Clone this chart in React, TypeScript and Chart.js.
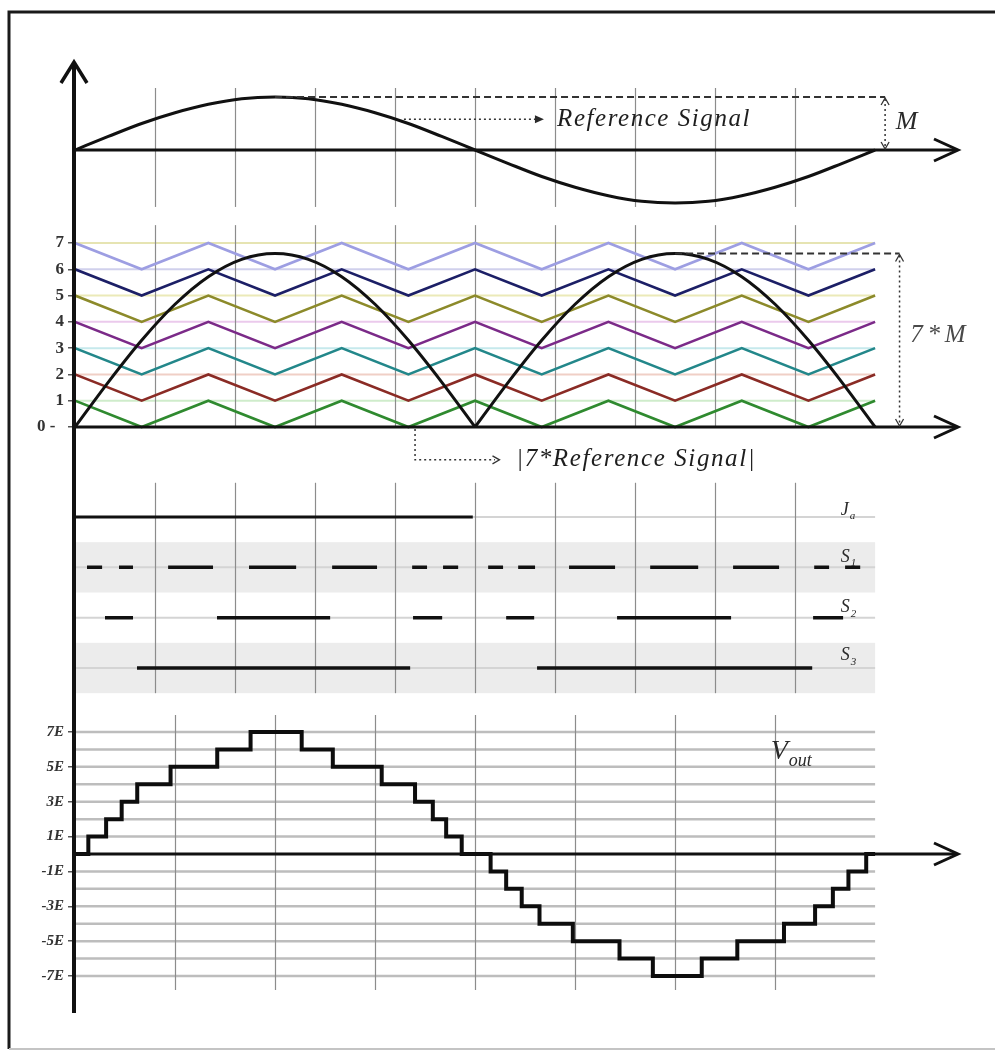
import React, { useEffect, useRef } from 'react';
import { Chart, registerables } from 'chart.js';

Chart.register(...registerables);

// ---------------- data ----------------
const M = 0.94; // modulation index (reference amplitude)

const refAngles = [0, 15, 30, 45, 60, 75, 90, 105, 120, 135, 150, 165, 180, 195, 210, 225, 240, 255, 270, 285, 300, 315, 330, 345, 360];
const refValues = [0, 0.24, 0.47, 0.66, 0.81, 0.91, 0.94, 0.91, 0.81, 0.66, 0.47, 0.24, 0, -0.24, -0.47, -0.66, -0.81, -0.91, -0.94, -0.91, -0.81, -0.66, -0.47, -0.24, 0];

const carrierAngles = [0, 30, 60, 90, 120, 150, 180, 210, 240, 270, 300, 330, 360];
const carrier1 = [1, 0, 1, 0, 1, 0, 1, 0, 1, 0, 1, 0, 1];
const carrier2 = [2, 1, 2, 1, 2, 1, 2, 1, 2, 1, 2, 1, 2];
const carrier3 = [3, 2, 3, 2, 3, 2, 3, 2, 3, 2, 3, 2, 3];
const carrier4 = [4, 3, 4, 3, 4, 3, 4, 3, 4, 3, 4, 3, 4];
const carrier5 = [5, 4, 5, 4, 5, 4, 5, 4, 5, 4, 5, 4, 5];
const carrier6 = [6, 5, 6, 5, 6, 5, 6, 5, 6, 5, 6, 5, 6];
const carrier7 = [7, 6, 7, 6, 7, 6, 7, 6, 7, 6, 7, 6, 7];
const carrierColors = ['#2f8a2f', '#8a2b25', '#23878a', '#7b2a88', '#8c8a2a', '#1c1f66', '#9d9ee2'];
const carrierLevelTints = ['#cfeccb', '#f0cfc6', '#c6e9ec', '#ebcaec', '#ebeab8', '#d0d0ec', '#e6e4b2'];

const archAngles1 = [0, 15, 30, 45, 60, 75, 90, 105, 120, 135, 150, 165, 180];
const archValues1 = [0, 1.71, 3.3, 4.67, 5.72, 6.38, 6.6, 6.38, 5.72, 4.67, 3.3, 1.71, 0];
const archAngles2 = [180, 195, 210, 225, 240, 255, 270, 285, 300, 315, 330, 345, 360];
const archValues2 = [0, 1.71, 3.3, 4.67, 5.72, 6.38, 6.6, 6.38, 5.72, 4.67, 3.3, 1.71, 0];

const voutAngles = [0, 6, 14, 21, 28, 43, 64, 79, 102, 116, 138, 153, 161, 167, 174, 187, 194, 201, 209, 224, 245, 260, 282, 298, 319, 333, 341, 348, 356, 360];
const voutLevels = [0, 1, 2, 3, 4, 5, 6, 7, 6, 5, 4, 3, 2, 1, 0, -1, -2, -3, -4, -5, -6, -7, -6, -5, -4, -3, -2, -1, 0, 0];

const jaSegments = [[0, 179]];
const s1Segments = [[5.4, 12.2], [19.8, 26.1], [41.9, 62.1], [78.3, 99.5], [115.7, 135.9], [151.7, 158.4], [165.6, 172.4], [185.9, 192.6], [199.4, 207], [222.3, 243], [258.8, 280.4], [296.1, 316.8], [332.6, 339.3], [346.5, 353.3]];
const s2Segments = [[13.5, 26.1], [63.9, 114.8], [152.1, 165.2], [194, 206.6], [243.9, 295.2], [332.1, 345.6]];
const s3Segments = [[27.9, 150.8], [207.9, 331.7]];

const carrierTicks = [0, 1, 2, 3, 4, 5, 6, 7];
const carrierTickLabels = ['0 -  ', '1', '2', '3', '4', '5', '6', '7'];
const voutTicks = [7, 5, 3, 1, -1, -3, -5, -7];
const voutTickLabels = ['7E', '5E', '3E', '1E', '-1E', '-3E', '-5E', '-7E'];
const voutGridLevels = [7, 6, 5, 4, 3, 2, 1, -1, -2, -3, -4, -5, -6, -7];

const gridAnglesTop = [36, 72, 108, 144, 180, 216, 252, 288, 324];
const gridAnglesVout = [45, 90, 135, 180, 225, 270, 315];

// ---------------- layout ----------------
const W = 995;
const H = 1051;
const PAD = { left: 0, right: 31, top: 40, bottom: 20 };
const T = PAD.top;
const B = H - PAD.bottom;

type Anchor = { v0: number; p0: number; v1: number; p1: number };
const A_REF: Anchor = { v0: 0, p0: 150, v1: M, p1: 97 };
const A_CAR: Anchor = { v0: 0, p0: 427, v1: 7, p1: 243 };
const A_SW: Anchor = { v0: 4, p0: 517, v1: 1, p1: 668 };
const A_OUT: Anchor = { v0: 0, p0: 854, v1: 7, p1: 732 };

function rangeFor(a: Anchor) {
  const k = (a.p0 - a.p1) / (a.v1 - a.v0);
  return { min: a.v0 - (B - a.p0) / k, max: a.v0 + (a.p0 - T) / k };
}
function valToPix(a: Anchor, v: number) {
  return a.p0 + ((v - a.v0) * (a.p1 - a.p0)) / (a.v1 - a.v0);
}
function pixToVal(a: Anchor, p: number) {
  return a.v0 + ((p - a.p0) * (a.v1 - a.v0)) / (a.p1 - a.p0);
}

const labelTicks = [
  ...carrierTicks.map((v, i) => ({ value: v, label: carrierTickLabels[i] })),
  ...voutTicks.map((L, i) => ({ value: pixToVal(A_CAR, valToPix(A_OUT, L)), label: voutTickLabels[i] })),
];

const SERIF = '"Liberation Serif", "DejaVu Serif", serif';

function pts(xs: number[], ys: number[]) {
  return xs.map((x, i) => ({ x, y: ys[i] }));
}
function segData(segs: number[][], row: number) {
  const out: { x: number; y: number | null }[] = [];
  segs.forEach(([a, b]) => {
    out.push({ x: a, y: row }, { x: b, y: row }, { x: b + 0.01, y: null });
  });
  return out;
}

// ---------------- drawing helpers ----------------
function line(ctx: CanvasRenderingContext2D, x1: number, y1: number, x2: number, y2: number) {
  ctx.beginPath();
  ctx.moveTo(x1, y1);
  ctx.lineTo(x2, y2);
  ctx.stroke();
}
function openHead(ctx: CanvasRenderingContext2D, tx: number, ty: number, dx: number, dy: number, len: number, half: number) {
  const bx = tx - dx * len;
  const by = ty - dy * len;
  const nx = -dy;
  const ny = dx;
  ctx.beginPath();
  ctx.moveTo(bx + nx * half, by + ny * half);
  ctx.lineTo(tx, ty);
  ctx.lineTo(bx - nx * half, by - ny * half);
  ctx.stroke();
}
function fillHead(ctx: CanvasRenderingContext2D, tx: number, ty: number, dx: number, dy: number, len: number, half: number) {
  const bx = tx - dx * len;
  const by = ty - dy * len;
  const nx = -dy;
  const ny = dx;
  ctx.beginPath();
  ctx.moveTo(bx + nx * half, by + ny * half);
  ctx.lineTo(tx, ty);
  ctx.lineTo(bx - nx * half, by - ny * half);
  ctx.closePath();
  ctx.fill();
}
// draws text at a fixed size, adjusting letter spacing so that it spans the given width
function spreadText(ctx: CanvasRenderingContext2D, text: string, x: number, y: number, width: number, size: number, style = 'italic', color = '#1e1e1e') {
  const c: any = ctx;
  ctx.font = `${style} ${size}px ${SERIF}`;
  c.letterSpacing = '0px';
  const w = ctx.measureText(text).width;
  const sp = (width - w) / Math.max(1, text.length);
  c.letterSpacing = `${sp.toFixed(2)}px`;
  ctx.fillStyle = color;
  ctx.textAlign = 'left';
  ctx.textBaseline = 'middle';
  ctx.fillText(text, x, y);
  c.letterSpacing = '0px';
}
function subLabel(ctx: CanvasRenderingContext2D, main: string, sub: string, x: number, y: number, size: number, subSize: number, color = '#2a2a2a') {
  ctx.fillStyle = color;
  ctx.textAlign = 'left';
  ctx.textBaseline = 'middle';
  ctx.font = `italic ${size}px ${SERIF}`;
  ctx.fillText(main, x, y);
  const w = ctx.measureText(main).width;
  ctx.font = `italic ${subSize}px ${SERIF}`;
  ctx.fillText(sub, x + w + 1, y + size * 0.35);
}

const decorPlugin = {
  id: 'decor',
  beforeDraw(chart: any) {
    const ctx: CanvasRenderingContext2D = chart.ctx;
    ctx.save();
    ctx.fillStyle = '#ffffff';
    ctx.fillRect(0, 0, chart.width, chart.height);
    ctx.strokeStyle = '#1a1a1a';
    ctx.lineWidth = 3;
    ctx.beginPath();
    ctx.moveTo(9, 1049);
    ctx.lineTo(9, 12);
    ctx.lineTo(W, 12);
    ctx.stroke();
    ctx.strokeStyle = '#c4c4c4';
    ctx.lineWidth = 2;
    line(ctx, 9, 1049, W, 1049);
    ctx.restore();
  },
  beforeDatasetsDraw(chart: any) {
    const ctx: CanvasRenderingContext2D = chart.ctx;
    const x = chart.scales.x;
    const yR = chart.scales.yR;
    const yC = chart.scales.yC;
    const yS = chart.scales.yS;
    const yV = chart.scales.yV;
    const x0 = x.getPixelForValue(0);
    const x1 = x.getPixelForValue(360);
    ctx.save();
    ctx.fillStyle = '#ececec';
    [[3.5, 2.5], [1.5, 0.5]].forEach(([a, b]) => {
      const ya = yS.getPixelForValue(a);
      const yb = yS.getPixelForValue(b);
      ctx.fillRect(x0, ya, x1 - x0, yb - ya);
    });
    ctx.strokeStyle = '#d4d4d4';
    ctx.lineWidth = 2;
    [3, 2, 1].forEach((r) => line(ctx, x0, yS.getPixelForValue(r), x1, yS.getPixelForValue(r)));
    line(ctx, x.getPixelForValue(179), yS.getPixelForValue(4), x1, yS.getPixelForValue(4));
    ctx.lineWidth = 2;
    for (let l = 1; l <= 7; l++) {
      ctx.strokeStyle = carrierLevelTints[l - 1];
      const py = yC.getPixelForValue(l);
      line(ctx, x0, py, x1, py);
    }
    ctx.strokeStyle = '#bdbdbd';
    ctx.lineWidth = 2.5;
    voutGridLevels.forEach((l) => {
      const py = yV.getPixelForValue(l);
      line(ctx, x0, py, x1, py);
    });
    ctx.strokeStyle = '#8c8c8c';
    ctx.lineWidth = 1.2;
    gridAnglesTop.forEach((a) => {
      const px = Math.round(x.getPixelForValue(a)) + 0.5;
      line(ctx, px, yR.getPixelForValue(1.1), px, yR.getPixelForValue(-1.01));
      line(ctx, px, yC.getPixelForValue(7.68), px, yC.getPixelForValue(0));
      line(ctx, px, yS.getPixelForValue(4.68), px, yS.getPixelForValue(0.5));
    });
    gridAnglesVout.forEach((a) => {
      const px = Math.round(x.getPixelForValue(a)) + 0.5;
      line(ctx, px, yV.getPixelForValue(7.97), px, yV.getPixelForValue(-7.8));
    });
    ctx.restore();
  },
  afterDatasetsDraw(chart: any) {
    const ctx: CanvasRenderingContext2D = chart.ctx;
    const x = chart.scales.x;
    const yR = chart.scales.yR;
    const yC = chart.scales.yC;
    const yS = chart.scales.yS;
    const yV = chart.scales.yV;
    const X = (a: number) => x.getPixelForValue(a);
    const axisX = X(0);
    const tipX = X(397.3);
    ctx.save();
    ctx.strokeStyle = '#111';
    ctx.fillStyle = '#111';
    ctx.lineCap = 'butt';
    ctx.lineWidth = 3;
    [yR.getPixelForValue(0), yC.getPixelForValue(0), yV.getPixelForValue(0)].forEach((py) => {
      line(ctx, axisX, py, tipX - 2, py);
      openHead(ctx, tipX, py, 1, 0, 24, 11);
    });
    ctx.lineWidth = 4;
    line(ctx, axisX - 1, 64, axisX - 1, 1013);
    ctx.lineWidth = 3.5;
    openHead(ctx, axisX - 1, 62, 0, -1, 21, 13);

    // top panel annotations
    ctx.strokeStyle = '#333';
    ctx.fillStyle = '#333';
    ctx.lineWidth = 2;
    ctx.setLineDash([7, 4]);
    const yM = yR.getPixelForValue(M);
    line(ctx, X(90), yM, X(364.5), yM);
    ctx.setLineDash([2, 3]);
    ctx.lineWidth = 1.5;
    const mX = X(364.5);
    line(ctx, mX, yM + 2, mX, yR.getPixelForValue(0) - 2);
    ctx.setLineDash([]);
    ctx.lineWidth = 1.3;
    openHead(ctx, mX, yM + 1, 0, -1, 7, 4);
    openHead(ctx, mX, yR.getPixelForValue(0) - 1, 0, 1, 7, 4);
    spreadText(ctx, 'M', X(369.3), yR.getPixelForValue(0.5), 27, 26, 'italic', '#2a2a2a');

    const yRef = yR.getPixelForValue(0.545);
    ctx.setLineDash([2, 3]);
    ctx.lineWidth = 1.5;
    line(ctx, X(148), yRef, X(208), yRef);
    ctx.setLineDash([]);
    fillHead(ctx, X(211), yRef, 1, 0, 9, 4);
    spreadText(ctx, 'Reference Signal', X(216.9), yRef, 194, 25, 'italic', '#1e1e1e');

    // carrier panel annotations
    const y7M = yC.getPixelForValue(6.6);
    ctx.setLineDash([7, 4]);
    ctx.lineWidth = 2;
    line(ctx, X(270), y7M, X(371), y7M);
    ctx.setLineDash([2, 3]);
    ctx.lineWidth = 1.5;
    const m7X = X(371);
    line(ctx, m7X, y7M + 2, m7X, yC.getPixelForValue(0) - 2);
    ctx.setLineDash([]);
    ctx.lineWidth = 1.3;
    openHead(ctx, m7X, y7M + 1, 0, -1, 7, 4);
    openHead(ctx, m7X, yC.getPixelForValue(0) - 1, 0, 1, 7, 4);
    spreadText(ctx, '7*M', X(375.8), yC.getPixelForValue(3.5), 60, 25, 'italic', '#4a4a4a');

    const yAbs = yC.getPixelForValue(-1.25);
    ctx.setLineDash([2, 3]);
    ctx.lineWidth = 1.5;
    ctx.beginPath();
    ctx.moveTo(X(153), yC.getPixelForValue(0) + 2);
    ctx.lineTo(X(153), yAbs);
    ctx.lineTo(X(189), yAbs);
    ctx.stroke();
    ctx.setLineDash([]);
    ctx.lineWidth = 1.3;
    openHead(ctx, X(191), yAbs, 1, 0, 7, 4);
    spreadText(ctx, '|7*Reference Signal|', X(198.5), yAbs, 240, 25, 'italic', '#1e1e1e');

    // switching labels
    const lx = X(344.5);
    subLabel(ctx, 'J', 'a', lx, yS.getPixelForValue(4.14), 18, 11);
    subLabel(ctx, 'S', '1', lx, yS.getPixelForValue(3.2), 18, 11);
    subLabel(ctx, 'S', '2', lx, yS.getPixelForValue(2.2), 18, 11);
    subLabel(ctx, 'S', '3', lx, yS.getPixelForValue(1.25), 18, 11);

    subLabel(ctx, 'V', 'out', X(313), yV.getPixelForValue(5.9), 28, 18, '#2a2a2a');
    ctx.restore();
  },
};

export default function App() {
  const canvasRef = useRef<HTMLCanvasElement | null>(null);

  useEffect(() => {
    const canvas = canvasRef.current;
    if (!canvas) return;
    const base = { pointRadius: 0, pointHoverRadius: 0, fill: false, tension: 0, xAxisID: 'x' };
    const carriers = [carrier1, carrier2, carrier3, carrier4, carrier5, carrier6, carrier7];
    const datasets: any[] = [
      { ...base, label: '|7*ref| a', data: pts(archAngles1, archValues1), yAxisID: 'yC', borderColor: '#111', borderWidth: 3, cubicInterpolationMode: 'monotone' },
      { ...base, label: '|7*ref| b', data: pts(archAngles2, archValues2), yAxisID: 'yC', borderColor: '#111', borderWidth: 3, cubicInterpolationMode: 'monotone' },
      { ...base, label: 'Vout', data: pts(voutAngles, voutLevels), yAxisID: 'yV', borderColor: '#0d0d0d', borderWidth: 4, stepped: 'before' },
      { ...base, label: 'Ja', data: segData(jaSegments, 4), yAxisID: 'yS', borderColor: '#111', borderWidth: 3 },
      { ...base, label: 'S1', data: segData(s1Segments, 3), yAxisID: 'yS', borderColor: '#111', borderWidth: 3.5 },
      { ...base, label: 'S2', data: segData(s2Segments, 2), yAxisID: 'yS', borderColor: '#111', borderWidth: 3.5 },
      { ...base, label: 'S3', data: segData(s3Segments, 1), yAxisID: 'yS', borderColor: '#111', borderWidth: 3.5 },
      { ...base, label: 'Reference', data: pts(refAngles, refValues), yAxisID: 'yR', borderColor: '#111', borderWidth: 3, cubicInterpolationMode: 'monotone' },
      ...carriers.map((c, i) => ({ ...base, label: `carrier ${i + 1}`, data: pts(carrierAngles, c), yAxisID: 'yC', borderColor: carrierColors[i], borderWidth: 2.6 })),
    ];

    const chart = new Chart(canvas, {
      type: 'line',
      data: { datasets },
      plugins: [decorPlugin as any],
      options: {
        responsive: false,
        animation: false,
        devicePixelRatio: 1,
        events: [],
        layout: { padding: PAD },
        plugins: { legend: { display: false }, tooltip: { enabled: false } },
        scales: {
          x: { type: 'linear', min: 0, max: 400, display: false },
          yR: { type: 'linear', display: false, ...rangeFor(A_REF) },
          yS: { type: 'linear', display: false, ...rangeFor(A_SW) },
          yV: { type: 'linear', display: false, ...rangeFor(A_OUT) },
          yC: {
            type: 'linear',
            position: 'left',
            ...rangeFor(A_CAR),
            border: { display: false },
            grid: { drawOnChartArea: false, drawTicks: true, tickLength: 7, color: '#555', lineWidth: 1.5 },
            afterBuildTicks: (scale: any) => {
              scale.ticks = labelTicks.map((t) => ({ value: t.value }));
            },
            afterFit: (scale: any) => {
              scale.width = 75;
              scale.paddingTop = 0;
              scale.paddingBottom = 0;
            },
            ticks: {
              autoSkip: false,
              padding: 4,
              color: '#333',
              font: (c: any) =>
                c.index >= carrierTicks.length
                  ? { family: SERIF, size: 15, style: 'italic', weight: 'bold' }
                  : { family: SERIF, size: 17, style: 'normal', weight: 'bold' },
              callback: (_v: any, i: number) => (labelTicks[i] ? labelTicks[i].label : ''),
            },
          },
        },
      } as any,
    });
    return () => chart.destroy();
  }, []);

  return (
    <div style={{ position: 'absolute', left: 0, top: 0, width: W, height: H, background: '#fff' }}>
      <canvas ref={canvasRef} width={W} height={H} style={{ display: 'block', width: W, height: H }} />
    </div>
  );
}
